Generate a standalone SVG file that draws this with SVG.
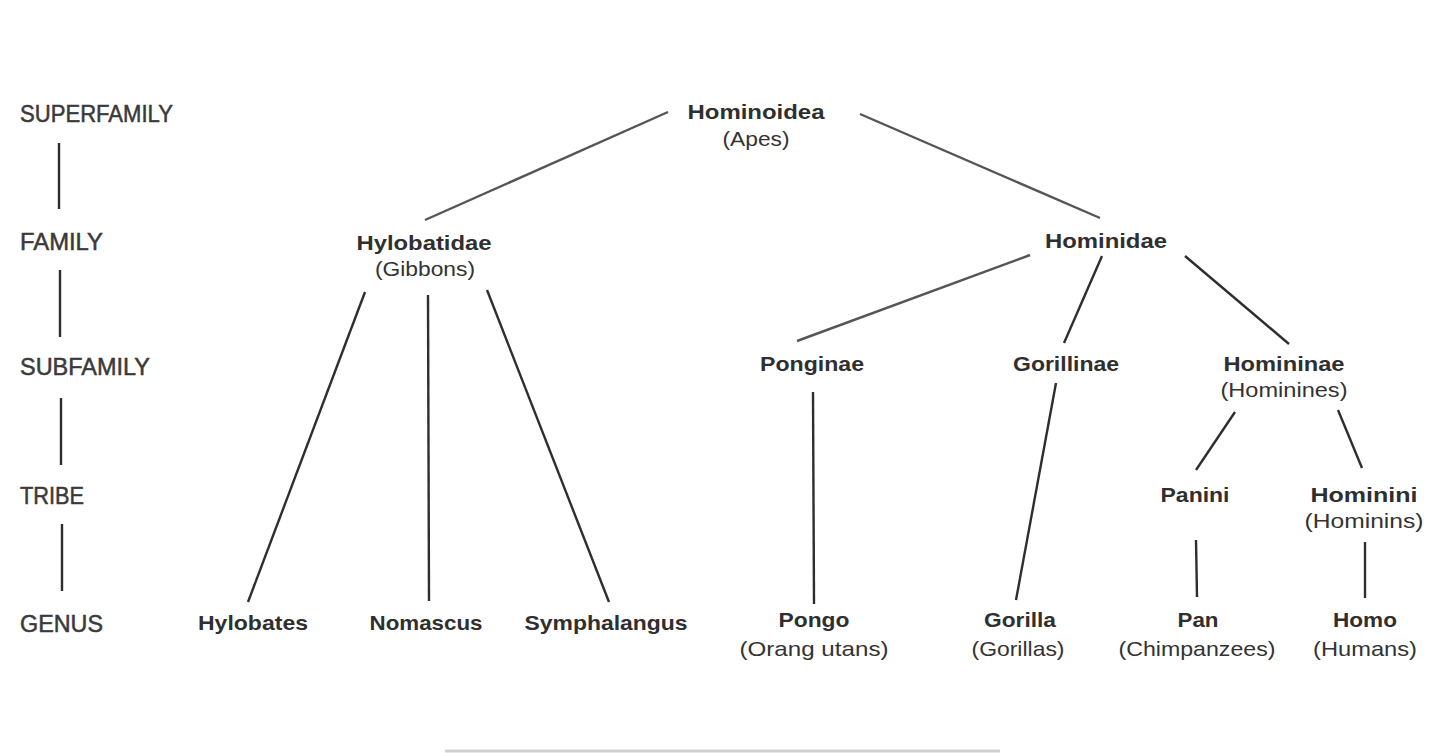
<svg xmlns="http://www.w3.org/2000/svg" width="1440" height="753" viewBox="0 0 1440 753">
<style>
text{font-family:"Liberation Sans",Arial,sans-serif;font-size:21px;fill:#333;text-anchor:middle}
.lab{text-anchor:start;fill:#3a3a3a;font-size:23px;stroke:#3a3a3a;stroke-width:0.5}
.b{font-weight:bold;fill:#2f2f2f}
.c line{stroke:#2e2e2e;stroke-width:2.4;stroke-linecap:butt}
.c line.g{stroke:#555}
</style>
<rect width="1440" height="753" fill="#fff"/>
<g id="rank-labels">
<text class="lab" x="20" y="122" textLength="153" lengthAdjust="spacingAndGlyphs">SUPERFAMILY</text>
<text class="lab" x="20" y="250" textLength="83" lengthAdjust="spacingAndGlyphs">FAMILY</text>
<text class="lab" x="20" y="375" textLength="130" lengthAdjust="spacingAndGlyphs">SUBFAMILY</text>
<text class="lab" x="20" y="504" textLength="64" lengthAdjust="spacingAndGlyphs">TRIBE</text>
<text class="lab" x="20" y="632" textLength="83" lengthAdjust="spacingAndGlyphs">GENUS</text>
</g>
<g id="connectors" class="c">
<line x1="59" y1="143" x2="59" y2="209"/>
<line x1="60" y1="270" x2="60" y2="337"/>
<line x1="61" y1="398" x2="61" y2="465"/>
<line x1="62" y1="524" x2="62" y2="591"/>
<line class="g" x1="668" y1="112" x2="425" y2="220"/>
<line class="g" x1="860" y1="114" x2="1100" y2="218"/>
<line x1="365" y1="292" x2="248" y2="602"/>
<line x1="428" y1="295" x2="429" y2="601"/>
<line x1="487" y1="290" x2="609" y2="602"/>
<line class="g" x1="1030" y1="255" x2="797" y2="341"/>
<line x1="1102" y1="256" x2="1064" y2="343"/>
<line x1="1185" y1="256" x2="1289" y2="344"/>
<line x1="813" y1="392" x2="814" y2="604"/>
<line x1="1056" y1="383" x2="1016" y2="600"/>
<line x1="1235" y1="412" x2="1196" y2="470"/>
<line x1="1338" y1="410" x2="1362" y2="468"/>
<line x1="1196" y1="540" x2="1197" y2="597"/>
<line x1="1365" y1="542" x2="1365" y2="598"/>
</g>
<g id="hominoidea"><text class="b" x="756" y="119" textLength="137" lengthAdjust="spacingAndGlyphs">Hominoidea</text><text x="756" y="146" textLength="67" lengthAdjust="spacingAndGlyphs">(Apes)</text></g>
<g id="hylobatidae"><text class="b" x="424" y="250" textLength="135" lengthAdjust="spacingAndGlyphs">Hylobatidae</text><text x="425" y="276" textLength="100" lengthAdjust="spacingAndGlyphs">(Gibbons)</text></g>
<g id="hominidae"><text class="b" x="1106" y="248" textLength="122" lengthAdjust="spacingAndGlyphs">Hominidae</text></g>
<g id="ponginae"><text class="b" x="812" y="371" textLength="104" lengthAdjust="spacingAndGlyphs">Ponginae</text></g>
<g id="gorillinae"><text class="b" x="1066" y="371" textLength="106" lengthAdjust="spacingAndGlyphs">Gorillinae</text></g>
<g id="homininae"><text class="b" x="1284" y="371" textLength="121" lengthAdjust="spacingAndGlyphs">Homininae</text><text x="1284" y="397" textLength="127" lengthAdjust="spacingAndGlyphs">(Hominines)</text></g>
<g id="panini"><text class="b" x="1195" y="502" textLength="69" lengthAdjust="spacingAndGlyphs">Panini</text></g>
<g id="hominini"><text class="b" x="1364" y="502" textLength="107" lengthAdjust="spacingAndGlyphs">Hominini</text><text x="1364" y="528" textLength="119" lengthAdjust="spacingAndGlyphs">(Hominins)</text></g>
<g id="hylobates"><text class="b" x="253" y="630" textLength="110" lengthAdjust="spacingAndGlyphs">Hylobates</text></g>
<g id="nomascus"><text class="b" x="426" y="630" textLength="113" lengthAdjust="spacingAndGlyphs">Nomascus</text></g>
<g id="symphalangus"><text class="b" x="606" y="630" textLength="163" lengthAdjust="spacingAndGlyphs">Symphalangus</text></g>
<g id="pongo"><text class="b" x="814" y="627" textLength="71" lengthAdjust="spacingAndGlyphs">Pongo</text><text x="814" y="656" textLength="149" lengthAdjust="spacingAndGlyphs">(Orang utans)</text></g>
<g id="gorilla"><text class="b" x="1020" y="627" textLength="72" lengthAdjust="spacingAndGlyphs">Gorilla</text><text x="1018" y="656" textLength="93" lengthAdjust="spacingAndGlyphs">(Gorillas)</text></g>
<g id="pan"><text class="b" x="1198" y="627" textLength="41" lengthAdjust="spacingAndGlyphs">Pan</text><text x="1197" y="656" textLength="157" lengthAdjust="spacingAndGlyphs">(Chimpanzees)</text></g>
<g id="homo"><text class="b" x="1365" y="627" textLength="64" lengthAdjust="spacingAndGlyphs">Homo</text><text x="1365" y="656" textLength="104" lengthAdjust="spacingAndGlyphs">(Humans)</text></g>
<line x1="445" y1="751" x2="1000" y2="751" stroke="#cfcfcf" stroke-width="3"/>
</svg>
